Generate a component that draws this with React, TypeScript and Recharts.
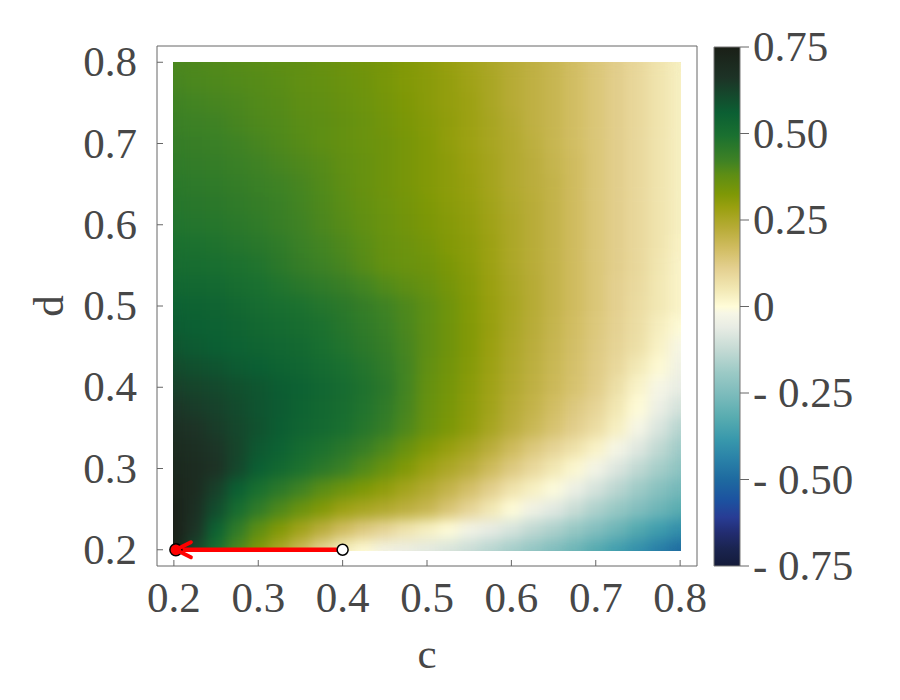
import React from "react";
import { ScatterChart, Scatter, XAxis, YAxis, ReferenceArea, Label } from "recharts";

const FONT = "'Liberation Serif', 'Times New Roman', serif";
const TEXT = "#474747";
const FRAME = "#666666";
const FONT_SIZE = 43;

// plot box of the main chart
const PLOT_W = 540;
const PLOT_H = 520;
const DOMAIN: [number, number] = [0.18, 0.82];
const PX_C = PLOT_W / (DOMAIN[1] - DOMAIN[0]);
const PX_D = PLOT_H / (DOMAIN[1] - DOMAIN[0]);

// grid: columns are c, rows are d (top row d = 0.8)
const cValues = [0.2, 0.225, 0.25, 0.275, 0.3, 0.325, 0.35, 0.375, 0.4, 0.425, 0.45, 0.475, 0.5, 0.525, 0.55, 0.575, 0.6, 0.625, 0.65, 0.675, 0.7, 0.725, 0.75, 0.775, 0.8];
const dValues = [0.8, 0.775, 0.75, 0.725, 0.7, 0.675, 0.65, 0.625, 0.6, 0.575, 0.55, 0.525, 0.5, 0.475, 0.45, 0.425, 0.4, 0.375, 0.35, 0.325, 0.3, 0.275, 0.25, 0.225, 0.2];

const zRows = [
  [0.405, 0.4, 0.395, 0.39, 0.385, 0.38, 0.375, 0.365, 0.355, 0.345, 0.335, 0.32, 0.305, 0.29, 0.27, 0.25, 0.23, 0.21, 0.19, 0.165, 0.14, 0.115, 0.09, 0.06, 0.03],
  [0.41, 0.405, 0.4, 0.395, 0.39, 0.385, 0.375, 0.37, 0.36, 0.35, 0.335, 0.32, 0.31, 0.295, 0.275, 0.255, 0.23, 0.21, 0.19, 0.165, 0.14, 0.115, 0.09, 0.06, 0.03],
  [0.42, 0.415, 0.41, 0.405, 0.395, 0.39, 0.38, 0.375, 0.365, 0.355, 0.34, 0.325, 0.31, 0.295, 0.28, 0.255, 0.23, 0.21, 0.19, 0.165, 0.14, 0.115, 0.09, 0.06, 0.03],
  [0.43, 0.425, 0.42, 0.41, 0.4, 0.395, 0.385, 0.38, 0.37, 0.36, 0.345, 0.33, 0.315, 0.3, 0.28, 0.26, 0.235, 0.21, 0.19, 0.165, 0.14, 0.115, 0.09, 0.06, 0.03],
  [0.44, 0.435, 0.43, 0.42, 0.41, 0.4, 0.39, 0.38, 0.37, 0.36, 0.35, 0.335, 0.32, 0.3, 0.28, 0.26, 0.24, 0.215, 0.19, 0.165, 0.14, 0.115, 0.09, 0.06, 0.03],
  [0.45, 0.445, 0.44, 0.43, 0.42, 0.41, 0.4, 0.39, 0.375, 0.365, 0.35, 0.335, 0.32, 0.305, 0.285, 0.265, 0.24, 0.22, 0.195, 0.17, 0.14, 0.115, 0.09, 0.06, 0.03],
  [0.46, 0.455, 0.45, 0.44, 0.43, 0.42, 0.41, 0.395, 0.38, 0.365, 0.35, 0.335, 0.32, 0.305, 0.29, 0.265, 0.24, 0.22, 0.2, 0.17, 0.14, 0.115, 0.09, 0.06, 0.03],
  [0.47, 0.465, 0.46, 0.45, 0.44, 0.43, 0.415, 0.4, 0.385, 0.37, 0.355, 0.34, 0.325, 0.31, 0.295, 0.27, 0.245, 0.225, 0.2, 0.17, 0.14, 0.115, 0.09, 0.06, 0.03],
  [0.48, 0.475, 0.47, 0.46, 0.45, 0.435, 0.42, 0.405, 0.39, 0.375, 0.36, 0.345, 0.33, 0.315, 0.3, 0.275, 0.25, 0.225, 0.2, 0.17, 0.14, 0.115, 0.09, 0.06, 0.03],
  [0.495, 0.49, 0.485, 0.475, 0.465, 0.45, 0.43, 0.415, 0.4, 0.385, 0.365, 0.355, 0.34, 0.32, 0.305, 0.28, 0.25, 0.225, 0.2, 0.17, 0.14, 0.115, 0.09, 0.06, 0.025],
  [0.51, 0.505, 0.5, 0.49, 0.48, 0.46, 0.44, 0.425, 0.41, 0.39, 0.37, 0.36, 0.35, 0.33, 0.31, 0.28, 0.25, 0.225, 0.2, 0.17, 0.14, 0.115, 0.09, 0.055, 0.02],
  [0.53, 0.525, 0.52, 0.505, 0.495, 0.48, 0.465, 0.45, 0.435, 0.415, 0.395, 0.38, 0.365, 0.34, 0.315, 0.285, 0.255, 0.23, 0.2, 0.17, 0.14, 0.11, 0.085, 0.05, 0.02],
  [0.55, 0.545, 0.54, 0.525, 0.51, 0.5, 0.49, 0.475, 0.46, 0.44, 0.42, 0.4, 0.38, 0.35, 0.32, 0.29, 0.26, 0.23, 0.2, 0.17, 0.14, 0.11, 0.08, 0.05, 0.02],
  [0.565, 0.555, 0.55, 0.54, 0.525, 0.515, 0.505, 0.49, 0.47, 0.45, 0.43, 0.405, 0.38, 0.35, 0.32, 0.29, 0.255, 0.225, 0.195, 0.165, 0.135, 0.105, 0.075, 0.035, 0.0],
  [0.58, 0.57, 0.56, 0.55, 0.54, 0.53, 0.52, 0.5, 0.48, 0.46, 0.44, 0.41, 0.38, 0.35, 0.32, 0.285, 0.25, 0.22, 0.19, 0.16, 0.13, 0.1, 0.07, 0.025, -0.02],
  [0.605, 0.595, 0.585, 0.57, 0.56, 0.545, 0.535, 0.515, 0.495, 0.475, 0.45, 0.415, 0.375, 0.345, 0.315, 0.28, 0.245, 0.215, 0.185, 0.155, 0.125, 0.09, 0.045, 0.005, -0.04],
  [0.63, 0.62, 0.61, 0.595, 0.58, 0.565, 0.55, 0.53, 0.51, 0.485, 0.46, 0.415, 0.37, 0.34, 0.31, 0.275, 0.24, 0.21, 0.18, 0.15, 0.12, 0.07, 0.02, -0.02, -0.06],
  [0.655, 0.64, 0.625, 0.605, 0.585, 0.57, 0.545, 0.525, 0.505, 0.48, 0.45, 0.41, 0.365, 0.335, 0.305, 0.27, 0.23, 0.2, 0.165, 0.13, 0.1, 0.05, 0.0, -0.05, -0.1],
  [0.68, 0.66, 0.64, 0.615, 0.59, 0.565, 0.54, 0.52, 0.5, 0.47, 0.44, 0.4, 0.36, 0.33, 0.3, 0.26, 0.22, 0.185, 0.15, 0.115, 0.08, 0.03, -0.02, -0.085, -0.15],
  [0.695, 0.68, 0.655, 0.62, 0.575, 0.55, 0.515, 0.49, 0.465, 0.435, 0.4, 0.36, 0.32, 0.29, 0.26, 0.22, 0.175, 0.135, 0.1, 0.065, 0.025, -0.02, -0.075, -0.13, -0.185],
  [0.71, 0.69, 0.665, 0.615, 0.56, 0.525, 0.49, 0.46, 0.43, 0.395, 0.36, 0.32, 0.28, 0.25, 0.22, 0.175, 0.13, 0.09, 0.05, 0.01, -0.03, -0.08, -0.13, -0.175, -0.22],
  [0.725, 0.69, 0.63, 0.56, 0.5, 0.46, 0.42, 0.385, 0.355, 0.325, 0.3, 0.265, 0.235, 0.2, 0.16, 0.115, 0.065, 0.03, -0.005, -0.045, -0.095, -0.14, -0.185, -0.23, -0.27],
  [0.74, 0.68, 0.6, 0.51, 0.45, 0.4, 0.36, 0.32, 0.28, 0.26, 0.24, 0.215, 0.19, 0.145, 0.1, 0.05, 0.0, -0.035, -0.07, -0.115, -0.16, -0.2, -0.24, -0.28, -0.32],
  [0.745, 0.66, 0.55, 0.45, 0.38, 0.32, 0.27, 0.22, 0.17, 0.13, 0.1, 0.06, 0.03, 0.0, -0.03, -0.06, -0.09, -0.13, -0.16, -0.2, -0.24, -0.28, -0.33, -0.37, -0.41],
  [0.75, 0.62, 0.5, 0.4, 0.32, 0.25, 0.18, 0.1, 0.03, 0.0, -0.03, -0.05, -0.07, -0.095, -0.12, -0.15, -0.18, -0.215, -0.25, -0.285, -0.33, -0.37, -0.41, -0.455, -0.5],
];

const cTicks = [0.2, 0.3, 0.4, 0.5, 0.6, 0.7, 0.8];
const dTicks = [0.2, 0.3, 0.4, 0.5, 0.6, 0.7, 0.8];
const barTicks = [0.75, 0.5, 0.25, 0, -0.25, -0.5, -0.75];
const barLabels = ["0.75", "0.50", "0.25", "0", "- 0.25", "- 0.50", "- 0.75"];

// red path: from the open circle to the filled dot
const pathC = [0.4, 0.2];
const pathD = [0.2, 0.2];

const colorStops: [number, string][] = [
  [-0.75, "#141b3a"],
  [-0.7, "#1a2450"],
  [-0.655, "#222c70"],
  [-0.61, "#283c94"],
  [-0.56, "#1c52a0"],
  [-0.5, "#1e6aa0"],
  [-0.44, "#2a82a8"],
  [-0.385, "#3898ac"],
  [-0.32, "#58acb0"],
  [-0.25, "#7ebcbc"],
  [-0.19, "#9ccac6"],
  [-0.125, "#c4dad4"],
  [-0.06, "#e8ece4"],
  [-0.02, "#f6f6e6"],
  [0, "#fffcd8"],
  [0.05, "#f2e8b4"],
  [0.11, "#e4d090"],
  [0.17, "#d0bc60"],
  [0.225, "#b8ac38"],
  [0.285, "#9aa010"],
  [0.325, "#7e9806"],
  [0.38, "#5e8e14"],
  [0.42, "#3f8224"],
  [0.495, "#1a7030"],
  [0.56, "#0b5f33"],
  [0.66, "#1d3326"],
  [0.75, "#1a1f17"],
];

function hexToRgb(h: string) {
  const n = parseInt(h.slice(1), 16);
  return [(n >> 16) & 255, (n >> 8) & 255, n & 255];
}

function colorFor(v: number) {
  if (v <= colorStops[0][0]) return colorStops[0][1];
  for (let i = 1; i < colorStops.length; i++) {
    const [v1, c1] = colorStops[i];
    if (v <= v1) {
      const [v0, c0] = colorStops[i - 1];
      const t = (v - v0) / (v1 - v0);
      const a = hexToRgb(c0);
      const b = hexToRgb(c1);
      const m = a.map((x, k) => Math.round(x + (b[k] - x) * t));
      return `rgb(${m[0]},${m[1]},${m[2]})`;
    }
  }
  return colorStops[colorStops.length - 1][1];
}

const halfC = (cValues[1] - cValues[0]) / 2;
const halfD = (dValues[0] - dValues[1]) / 2;
const cMin = cValues[0];
const cMax = cValues[cValues.length - 1];
const dMin = dValues[dValues.length - 1];
const dMax = dValues[0];

const cells: { c: number; d: number; x1: number; x2: number; y1: number; y2: number; fill: string }[] = [];
zRows.forEach((row, i) => {
  row.forEach((z, j) => {
    const c = cValues[j];
    const d = dValues[i];
    cells.push({
      c,
      d,
      x1: Math.max(cMin, c - halfC),
      x2: Math.min(cMax, c + halfC),
      y1: Math.max(dMin, d - halfD),
      y2: Math.min(dMax, d + halfD),
      fill: colorFor(z),
    });
  });
});

const pathData = pathC.map((c, i) => ({ c, d: pathD[i] }));
const barData = barTicks.map((v) => ({ x: 0.5, y: v }));

const HeatCell = (props: any) => {
  const { cx, cy, payload } = props;
  const left = cx - (payload.c - payload.x1) * PX_C;
  const top = cy - (payload.y2 - payload.d) * PX_D;
  const w = (payload.x2 - payload.x1) * PX_C;
  const h = (payload.y2 - payload.y1) * PX_D;
  return <rect x={left} y={top} width={w + 0.5} height={h + 0.5} fill={payload.fill} />;
};

const XTick = (props: any) => {
  const { x, y, payload } = props;
  return (
    <g>
      <line x1={x} y1={y} x2={x} y2={y - 6} stroke={FRAME} />
      <text x={x} y={y + 46} textAnchor="middle" fontFamily={FONT} fontSize={FONT_SIZE} fill={TEXT}>
        {payload.value.toFixed(1)}
      </text>
    </g>
  );
};

const YTick = (props: any) => {
  const { x, y, payload } = props;
  return (
    <g>
      <line x1={x} y1={y} x2={x + 6} y2={y} stroke={FRAME} />
      <text x={x - 20} y={y + 14} textAnchor="end" fontFamily={FONT} fontSize={FONT_SIZE} fill={TEXT}>
        {payload.value.toFixed(1)}
      </text>
    </g>
  );
};

const BarTick = (props: any) => {
  const { x, y, payload } = props;
  const label = barLabels[barTicks.indexOf(payload.value)];
  return (
    <g>
      <line x1={x} y1={y} x2={x + 9} y2={y} stroke={FRAME} />
      <text x={x + 13} y={y + 14} textAnchor="start" fontFamily={FONT} fontSize={FONT_SIZE} fill={TEXT} xmlSpace="preserve">
        {label}
      </text>
    </g>
  );
};

const PathPoint = (props: any) => {
  const { cx, cy, payload } = props;
  if (payload.c === pathC[0]) {
    return <circle cx={cx} cy={cy} r={5.5} fill="#ffffff" stroke="#000000" strokeWidth={1.5} />;
  }
  return (
    <g>
      <circle cx={cx + 2} cy={cy} r={6} fill="#ff0000" stroke="#000000" strokeWidth={1.5} />
      <polyline
        points={`${cx + 17},${cy - 7.5} ${cx + 2},${cy} ${cx + 17},${cy + 7.5}`}
        fill="none"
        stroke="#ff0000"
        strokeWidth={4}
        strokeLinecap="round"
        strokeLinejoin="round"
      />
    </g>
  );
};

const NoMark = () => <g />;

const gradientStops = colorStops
  .map(([v, col]) => ({ offset: (0.75 - v) / 1.5, col }))
  .sort((a, b) => a.offset - b.offset);

export default function App() {
  return (
    <div style={{ position: "absolute", left: 0, top: 0, width: 900, height: 700, background: "#fff" }}>
      <style>{`.heat-cells { filter: url(#heatSmooth); }`}</style>
      <div style={{ position: "absolute", left: 0, top: 0 }}>
        <ScatterChart width={900} height={700} margin={{ top: 46, right: 203, bottom: 34, left: 57 }}>
          <defs>
            <filter id="heatSmooth" x="0" y="0" width="1" height="1" colorInterpolationFilters="sRGB">
              <feGaussianBlur stdDeviation="6.5" edgeMode="duplicate" />
              <feComponentTransfer>
                <feFuncA type="linear" slope="0" intercept="1" />
              </feComponentTransfer>
            </filter>
          </defs>
          <XAxis
            dataKey="c"
            type="number"
            domain={DOMAIN}
            ticks={cTicks}
            interval={0}
            tickSize={0}
            tickMargin={0}
            axisLine={false}
            tickLine={false}
            tick={XTick}
            height={100}
            allowDataOverflow
          >
            <Label
              content={(p: any) => (
                <text
                  x={p.viewBox.x + p.viewBox.width / 2}
                  y={p.viewBox.y + 102}
                  textAnchor="middle"
                  fontFamily={FONT}
                  fontSize={FONT_SIZE}
                  fill={TEXT}
                >
                  c
                </text>
              )}
            />
          </XAxis>
          <YAxis
            dataKey="d"
            type="number"
            domain={DOMAIN}
            ticks={dTicks}
            interval={0}
            tickSize={0}
            tickMargin={0}
            axisLine={false}
            tickLine={false}
            tick={YTick}
            width={100}
            allowDataOverflow
          >
            <Label
              content={(p: any) => {
                const x = 63;
                const y = p.viewBox.y + p.viewBox.height / 2;
                return (
                  <text
                    x={x}
                    y={y}
                    transform={`rotate(-90, ${x}, ${y})`}
                    textAnchor="middle"
                    fontFamily={FONT}
                    fontSize={FONT_SIZE}
                    fill={TEXT}
                  >
                    d
                  </text>
                );
              }}
            />
          </YAxis>
          <ReferenceArea
            x1={DOMAIN[0]}
            x2={DOMAIN[1]}
            y1={DOMAIN[0]}
            y2={DOMAIN[1]}
            fill="none"
            stroke={FRAME}
            strokeWidth={1}
            ifOverflow="visible"
          />
          <Scatter
            className="heat-cells"
            data={cells}
            shape={HeatCell}
            isAnimationActive={false}
          />
          <Scatter
            data={pathData}
            line={{ stroke: "#ff0000", strokeWidth: 4.5 }}
            lineType="joint"
            shape={PathPoint}
            isAnimationActive={false}
          />
        </ScatterChart>
      </div>
      <div style={{ position: "absolute", left: 0, top: 0 }}>
        <ScatterChart width={900} height={700} margin={{ top: 47, right: 10, bottom: 134, left: 714 }}>
          <defs>
            <linearGradient id="cbarGradient" x1="0" y1="0" x2="0" y2="1">
              {gradientStops.map((s) => (
                <stop key={s.offset} offset={s.offset} stopColor={s.col} />
              ))}
            </linearGradient>
          </defs>
          <XAxis type="number" dataKey="x" domain={[0, 1]} hide />
          <YAxis
            type="number"
            dataKey="y"
            orientation="right"
            domain={[-0.75, 0.75]}
            ticks={barTicks}
            interval={0}
            tickSize={0}
            tickMargin={0}
            axisLine={false}
            tickLine={false}
            tick={BarTick}
            width={150}
          />
          <ReferenceArea
            x1={0}
            x2={1}
            y1={-0.75}
            y2={0.75}
            fill="url(#cbarGradient)"
            fillOpacity={1}
            stroke="#777777"
            strokeWidth={1}
            ifOverflow="visible"
          />
          <Scatter data={barData} shape={NoMark} isAnimationActive={false} />
        </ScatterChart>
      </div>
    </div>
  );
}
